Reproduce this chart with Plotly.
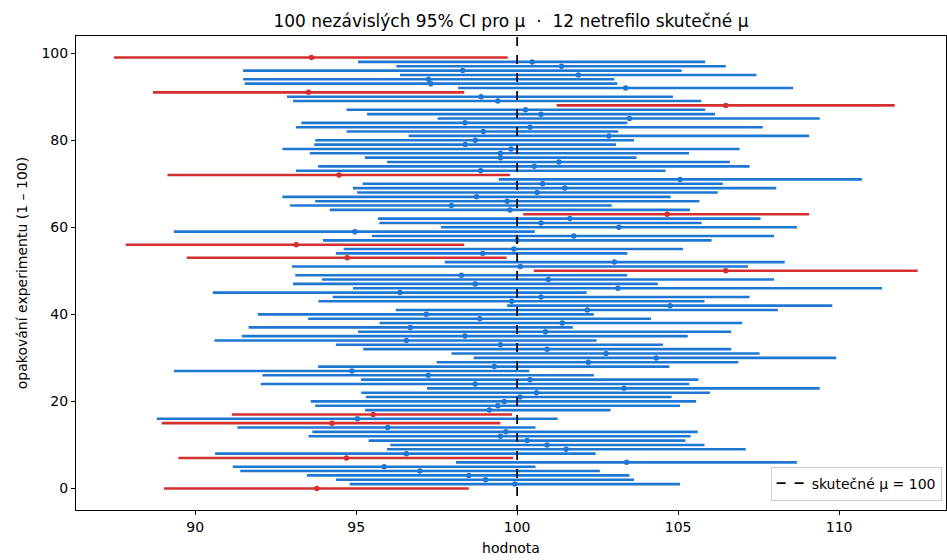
import plotly.graph_objects as go

lower = [89.03, 94.80, 94.37, 93.47, 91.40, 91.17, 98.10, 89.48, 90.62, 95.96,
         96.06, 95.39, 93.52, 93.64, 91.31, 88.96, 88.81, 91.14, 95.28, 93.73,
         93.59, 95.30, 95.16, 97.20, 92.04, 95.15, 92.09, 89.34, 93.82, 97.50,
         98.65, 97.96, 95.22, 94.37, 90.60, 91.45, 95.06, 91.66, 95.73, 93.51,
         91.95, 96.23, 99.69, 93.83, 94.27, 90.55, 94.90, 93.04, 93.94, 93.11,
         100.52, 93.01, 97.75, 89.74, 94.37, 94.61, 87.84, 93.97, 95.49, 89.34,
         97.63, 95.72, 95.68, 100.19, 94.18, 92.95, 93.73, 92.71, 95.03, 94.90,
         95.20, 99.43, 89.14, 93.13, 93.82, 95.96, 95.27, 93.56, 92.71, 93.70,
         93.73, 96.63, 94.70, 93.13, 93.30, 97.53, 95.34, 94.70, 101.23, 93.04,
         92.85, 88.69, 98.17, 91.54, 91.49, 96.36, 91.49, 96.25, 95.06, 87.48]
upper = [98.50, 105.06, 103.63, 103.49, 102.57, 100.57, 108.69, 99.88, 102.44, 107.10,
         105.82, 105.23, 105.39, 105.61, 100.57, 99.48, 101.26, 99.84, 102.90, 105.06,
         105.56, 104.80, 105.99, 109.40, 105.35, 105.63, 102.38, 100.38, 104.73, 106.87,
         109.91, 107.53, 106.65, 104.53, 102.47, 105.30, 106.65, 101.73, 106.99, 104.16,
         102.38, 108.10, 109.79, 105.82, 107.22, 102.16, 111.33, 104.37, 107.98, 103.42,
         112.44, 107.17, 108.31, 99.67, 103.42, 105.15, 98.36, 106.04, 107.98, 100.55,
         108.69, 105.73, 107.56, 109.07, 105.37, 102.94, 105.66, 104.77, 106.23, 108.05,
         106.39, 110.71, 99.78, 104.61, 107.22, 106.61, 103.71, 105.34, 106.91, 103.07,
         103.63, 109.07, 103.14, 107.63, 103.42, 109.40, 106.15, 105.84, 111.73, 105.72,
         104.84, 98.36, 108.57, 103.11, 103.02, 107.43, 105.11, 106.48, 105.84, 99.71]
means = [93.78, 99.93, 99.02, 98.50, 96.98, 95.87, 103.40, 94.70, 96.56, 101.52,
         100.93, 100.31, 99.48, 99.65, 95.98, 94.25, 95.04, 95.53, 99.14, 99.40,
         99.60, 100.09, 100.60, 103.32, 98.70, 100.40, 97.24, 94.87, 99.29, 102.21,
         104.32, 102.76, 100.93, 99.48, 96.56, 98.38, 100.88, 96.68, 101.40, 98.84,
         97.18, 102.18, 104.75, 99.83, 100.74, 96.36, 103.13, 98.70, 100.97, 98.27,
         106.48, 100.10, 103.02, 94.72, 98.93, 99.90, 93.14, 100.00, 101.76, 94.96,
         103.16, 100.74, 101.64, 104.66, 99.78, 97.96, 99.69, 98.74, 100.62, 101.48,
         100.79, 105.06, 94.47, 98.87, 100.53, 101.30, 99.48, 99.48, 99.81, 98.39,
         98.70, 102.85, 98.95, 100.40, 98.38, 103.49, 100.74, 100.26, 106.48, 99.40,
         98.88, 93.52, 103.37, 97.32, 97.25, 101.90, 98.31, 101.38, 100.47, 93.61]
true_mu = 100
title_text = "100 nezávislých 95% CI pro μ  ·  12 netrefilo skutečné μ"
x_label = "hodnota"
y_label = "opakování experimentu (1 – 100)"
legend_label = "skutečné μ = 100"
x_ticks = [90, 95, 100, 105, 110]
y_ticks = [0, 20, 40, 60, 80, 100]

BLUE = "#1f77d4"
RED = "#d62f2f"

fig = go.Figure()

groups = {"hit": ([], [], [], []), "miss": ([], [], [], [])}
for i, (lo, hi, m) in enumerate(zip(lower, upper, means)):
    key = "hit" if lo <= true_mu <= hi else "miss"
    xs, ys, plus, minus = groups[key]
    xs.append(m)
    ys.append(i)
    plus.append(hi - m)
    minus.append(m - lo)

for key, color in (("hit", BLUE), ("miss", RED)):
    xs, ys, plus, minus = groups[key]
    fig.add_trace(go.Scatter(
        x=xs, y=ys, mode="markers",
        marker=dict(color=color, size=5.5, line=dict(width=0)),
        error_x=dict(type="data", symmetric=False, array=plus, arrayminus=minus,
                     color=color, thickness=2.6, width=0),
        showlegend=False, hoverinfo="skip",
    ))

fig.add_trace(go.Scatter(
    x=[true_mu, true_mu], y=[-10, 115], mode="lines",
    line=dict(color="black", width=1.7, dash="dash"),
    name=legend_label, showlegend=True,
))

axis_common = dict(
    showgrid=False, zeroline=False, showline=True, linecolor="black", linewidth=1,
    mirror=True, ticks="outside", ticklen=4, tickcolor="black", tickwidth=1,
    tickfont=dict(size=14, color="black"),
)

fig.update_layout(
    width=947, height=560,
    margin=dict(l=76, r=1, t=36, b=50),
    plot_bgcolor="white", paper_bgcolor="white",
    font=dict(family="DejaVu Sans", color="black"),
    title=dict(text=title_text, x=0.5, xanchor="center", y=0.963, yanchor="middle",
               xref="paper", font=dict(size=17)),
    xaxis=dict(range=[86.3, 113.32], tickvals=x_ticks,
               title=dict(text=x_label, font=dict(size=14), standoff=9), **axis_common),
    yaxis=dict(range=[-4.95, 103.95], tickvals=y_ticks,
               title=dict(text=y_label, font=dict(size=14), standoff=10), **axis_common),
    legend=dict(x=0.995, y=0.02, xanchor="right", yanchor="bottom",
                bgcolor="rgba(255,255,255,0.85)", bordercolor="#cccccc", borderwidth=1,
                font=dict(size=14)),
)

fig.write_html("out.html")
